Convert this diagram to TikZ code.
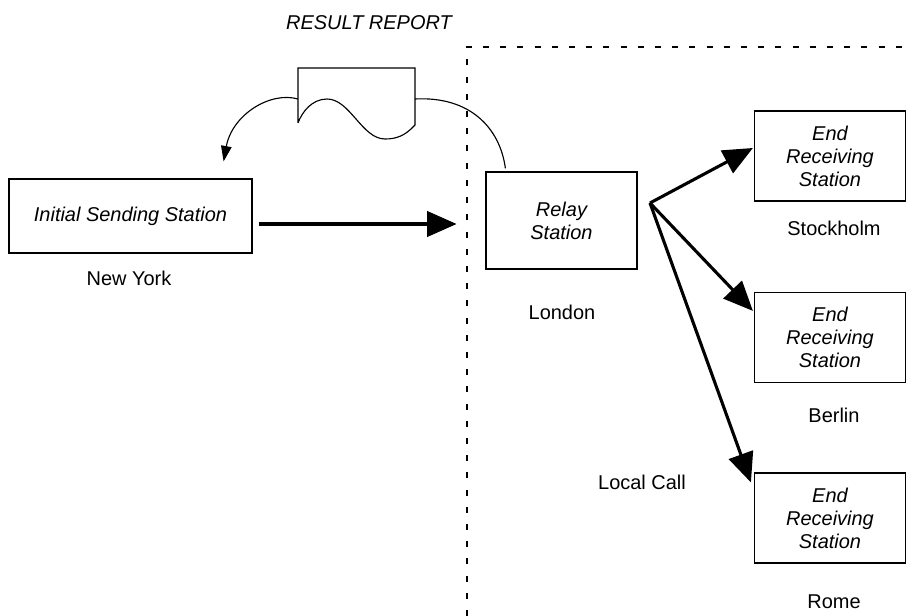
\documentclass[tikz,border=0pt]{standalone}
\usepackage{fontspec}
\setmainfont{Liberation Sans}
\usepackage{tikz}
\usetikzlibrary{arrows.meta,calc}

\begin{document}
\begin{tikzpicture}[x=0.025cm, y=-0.025cm,
  every node/.style={font=\fontsize{14.2pt}{16.4pt}\selectfont},
  stationbox/.style={draw, line width=0.8pt, align=center, inner sep=0pt,
    font=\fontsize{14.2pt}{16.4pt}\selectfont\itshape},
  bigarrow/.style={line width=2.2pt, -{Triangle[length=21pt,width=18pt]}},
  thinarrow/.style={line width=0.8pt, -{Triangle[length=11pt,width=7.5pt]}},
  border/.style={line width=0.8pt, dash pattern=on 0.15cm off 0.28cm}]
  \useasboundingbox (0,0) rectangle (910,616);

  % Stations
  \node[stationbox, minimum width=6.075cm, minimum height=1.85cm] (iss) at (130.5,216) {Initial Sending Station};
  \node[stationbox, minimum width=3.775cm, minimum height=2.425cm] (relay) at (561.5,220.5) {Relay\\Station};
  \node[stationbox, minimum width=3.775cm, minimum height=2.25cm] (end1) at (830,156) {End\\Receiving\\Station};
  \node[stationbox, minimum width=3.775cm, minimum height=2.25cm] (end2) at (830,337.5) {End\\Receiving\\Station};
  \node[stationbox, minimum width=3.775cm, minimum height=2.25cm] (end3) at (830,518) {End\\Receiving\\Station};

  % Labels
  \node (newyork) at (129,278) {New York};
  \node (london) at (562,312) {London};
  \node (stockholm) at (834,228) {Stockholm};
  \node (berlin) at (834,415) {Berlin};
  \node (rome) at (834,602) {Rome};
  \node (localcall) at (642,482) {Local Call};
  \node[font=\fontsize{14.2pt}{16.4pt}\selectfont\itshape] (result) at (369,23) {RESULT REPORT};

  % Border of the relay side
  \draw[border] (467,616) -- (467,47) -- (905,47);

  % Result report document
  \draw[line width=0.8pt] (298,123) -- (298,68) -- (415,68) -- (415,125)
    .. controls (405,136) and (396,139) .. (385,139)
    .. controls (362,139) and (350,99) .. (327,99)
    .. controls (312,99) and (302,112) .. (298,123);
  \coordinate (repL) at (298,99);
  \coordinate (repR) at (415,99);

  % Connectors
  \draw[bigarrow, shorten <=0.15cm, shorten >=0.72cm] ([yshift=-0.2cm]iss.east) -- ([yshift=-0.2cm]iss.east -| relay.west);
  \coordinate (fan) at (650,203);
  \draw[bigarrow] (fan) -- ($(end1.west)+(-1,-8)$);
  \draw[bigarrow] (fan) -- ($(end2.north west)+(-1,19)$);
  \draw[bigarrow] (fan) -- ($(end3.north west)+(-3,10)$);
  \draw[thinarrow] (repL) .. controls (270,91) and (232,115) .. ($(iss.north east)+(-29,-17)$);
  \draw[line width=0.8pt] (repR) .. controls (470,96) and (500,128) .. ($(relay.north west)+(20,-3)$);
\end{tikzpicture}
\end{document}
